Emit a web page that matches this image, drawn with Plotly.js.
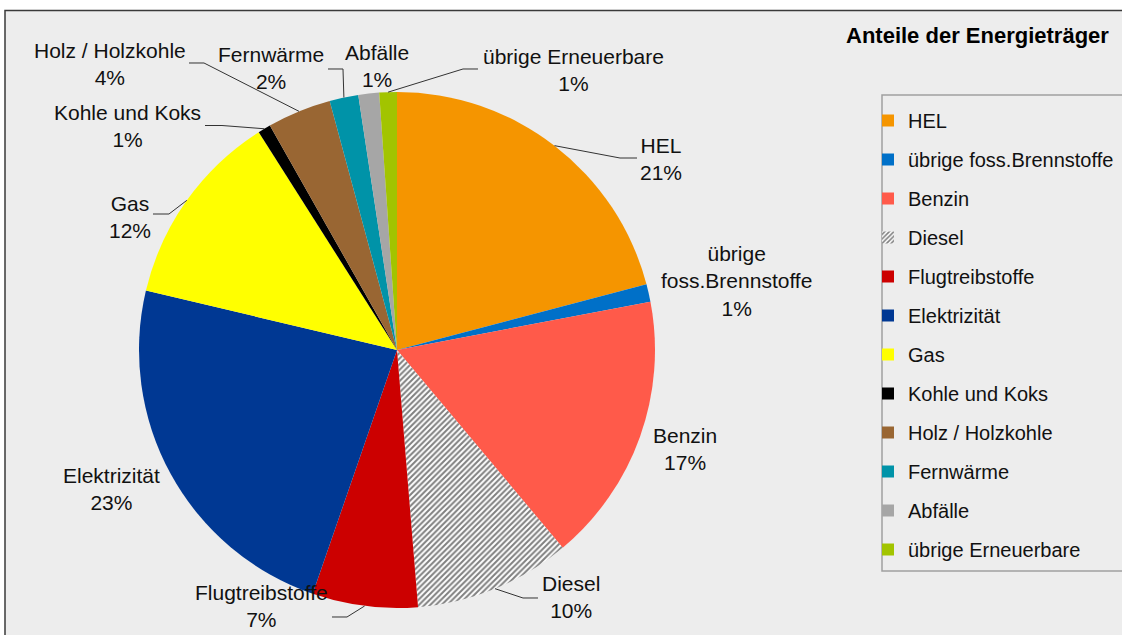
<!DOCTYPE html>
<html>
<head>
<meta charset="utf-8">
<script src="https://cdn.plot.ly/plotly-3.0.1.min.js"></script>
<style>html,body{margin:0;padding:0;background:#fff;}#chart{width:1122px;height:635px;}</style>
</head>
<body>
<div id="chart"></div>
<script>
// ---- data ----
const categories = ["HEL", "übrige foss.Brennstoffe", "Benzin", "Diesel", "Flugtreibstoffe", "Elektrizität", "Gas", "Kohle und Koks", "Holz / Holzkohle", "Fernwärme", "Abfälle", "übrige Erneuerbare"];
const shares = [20.9, 1.1, 16.9, 9.8, 6.6, 23.4, 12.3, 0.8, 4.0, 1.8, 1.3, 1.1];
const sliceColors = ["#F59500", "#0070C8", "#FF5A4A", "#808080", "#CC0000", "#003893", "#FFFF00", "#000000", "#996633", "#0093A8", "#A6A6A6", "#A2C400"];
const slicePatterns = ["", "", "", "/", "", "", "", "", "", "", "", ""];
const chartTitle = "Anteile der Energieträger";

// ---- layout helpers (pixel -> paper) ----
const W = 1122, H = 635;
const px = x => x / W;
const py = y => 1 - y / H;
const CX = 397, CY = 350, R = 258;

// label placement (centre of text block, pixels) and leader elbows
const labelPos = [
  [661, 159], [736, 281], [685, 449], [571, 597], [261, 606], [111, 489],
  [130, 217], [128, 126], [110, 64], [271, 68], [377, 66], [573, 70]
];
const leaders = [
  [[620, 158], [637, 158]], null, null, [[523, 598], [538, 598]], [[347, 617], [332, 617]], null,
  [[169, 214], [153, 214]], [[222, 125.5], [205, 125.5]], [[204, 63], [189, 63]], [[343, 69], [328, 69]],
  null, [[463, 69], [478, 69]]
];

const total = shares.reduce((a, b) => a + b, 0);
const pct = shares.map(v => Math.round(v / total * 100) + "%");

// pie trace
const pie = {
  type: "pie",
  labels: categories,
  values: shares,
  sort: false,
  direction: "clockwise",
  rotation: 0,
  textinfo: "none",
  hoverinfo: "label+percent",
  showlegend: false,
  marker: {
    colors: sliceColors,
    line: { width: 0 },
    pattern: { shape: slicePatterns, bgcolor: "#ffffff", size: 4, solidity: 0.5 }
  },
  domain: { x: [px(CX - R), px(CX + R)], y: [py(CY + R), py(CY - R)] }
};

// legend entries (empty bar traces so the legend can be spaced like the original)
const legendTraces = categories.map((c, i) => ({
  type: "bar",
  x: [null], y: [null],
  name: c,
  legendgroup: "g" + i,
  hoverinfo: "skip",
  marker: {
    color: sliceColors[i],
    line: { width: 0 },
    pattern: slicePatterns[i] ? { shape: slicePatterns[i], bgcolor: "#ffffff", size: 4, solidity: 0.5 } : undefined
  }
}));

// annotations: slice labels
const annotations = categories.map((c, i) => {
  const txt = (c === "übrige foss.Brennstoffe" ? "übrige<br>foss.Brennstoffe" : c) + "<br>" + pct[i];
  return {
    xref: "paper", yref: "paper",
    x: px(labelPos[i][0]), y: py(labelPos[i][1]),
    xanchor: "center", yanchor: "middle",
    text: txt, showarrow: false, align: "center",
    font: { family: "Liberation Sans, Arial, sans-serif", size: 21, color: "#111111" }
  };
});
annotations.push({
  xref: "paper", yref: "paper", x: px(1111), y: py(36),
  xanchor: "right", yanchor: "middle", showarrow: false,
  text: "<b>" + chartTitle + "</b>",
  font: { family: "Liberation Sans, Arial, sans-serif", size: 22, color: "#000000" }
});

// shapes: frame, legend box, leader lines
const shapes = [
  { type: "rect", xref: "paper", yref: "paper", layer: "below",
    x0: px(5), x1: px(1140), y0: py(10.5), y1: py(660),
    fillcolor: "#EDEDED", line: { color: "#3a3a3a", width: 1.5 } },
  { type: "rect", xref: "paper", yref: "paper", layer: "above",
    x0: px(882), x1: px(1140), y0: py(95), y1: py(571),
    fillcolor: "rgba(0,0,0,0)", line: { color: "#a0a0a0", width: 1.5 } }
];
let cum = 0;
shares.forEach((v, i) => {
  const mid = (cum + v / 2) / total * 2 * Math.PI;
  cum += v;
  if (!leaders[i]) return;
  const sx = CX + R * Math.sin(mid), sy = CY - R * Math.cos(mid);
  const pts = [[sx, sy]].concat(leaders[i]);
  const path = pts.map((p, k) => (k ? "L" : "M") + px(p[0]).toFixed(5) + "," + py(p[1]).toFixed(5)).join(" ");
  shapes.push({ type: "path", xref: "paper", yref: "paper", layer: "above", path: path,
    line: { color: "#333333", width: 1 } });
});

const layout = {
  width: W, height: H,
  margin: { l: 0, r: 0, t: 0, b: 0 },
  paper_bgcolor: "#ffffff",
  plot_bgcolor: "rgba(0,0,0,0)",
  xaxis: { visible: false, domain: [0.99, 1] },
  yaxis: { visible: false, domain: [0.99, 1] },
  showlegend: true,
  legend: {
    x: px(868), y: py(101), xanchor: "left", yanchor: "top",
    bgcolor: "rgba(0,0,0,0)", borderwidth: 0,
    traceorder: "grouped", tracegroupgap: 10,
    font: { family: "Liberation Sans, Arial, sans-serif", size: 20, color: "#111111" }
  },
  annotations: annotations,
  shapes: shapes
};

Plotly.newPlot("chart", [pie].concat(legendTraces), layout, { displayModeBar: false, staticPlot: true });
</script>
</body>
</html>
